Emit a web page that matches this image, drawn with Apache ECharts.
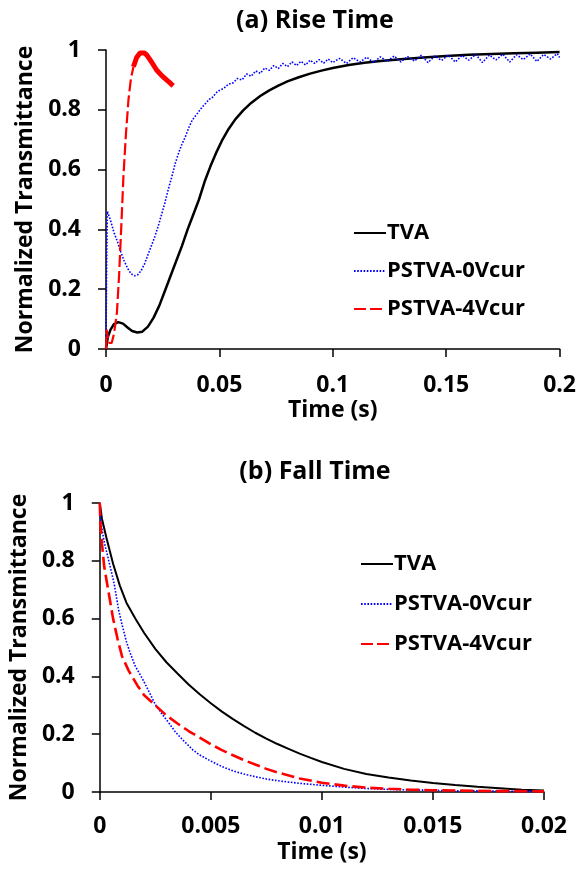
<!DOCTYPE html>
<html>
<head>
<meta charset="utf-8">
<script src="https://cdn.jsdelivr.net/npm/echarts@6/dist/echarts.min.js"></script>
<style>
html,body{margin:0;padding:0;background:#fff;}
#c{width:579px;height:875px;}
</style>
</head>
<body>
<div id="c"></div>
<script>
// ---- data: (a) Rise Time ----
const riseTVA = [[0,0],[0.0008,0.04],[0.002,0.065],[0.0035,0.083],[0.0054,0.09],[0.0075,0.085],[0.0095,0.072],[0.0115,0.06],[0.0138,0.055],[0.016,0.058],[0.0185,0.075],[0.021,0.105],[0.0235,0.145],[0.026,0.195],[0.0285,0.245],[0.031,0.295],[0.0335,0.345],[0.036,0.40],[0.0385,0.45],[0.041,0.50],[0.0435,0.56],[0.046,0.61],[0.0485,0.655],[0.051,0.695],[0.054,0.735],[0.057,0.768],[0.0605,0.798],[0.064,0.823],[0.068,0.846],[0.072,0.865],[0.076,0.881],[0.080,0.895],[0.085,0.909],[0.090,0.921],[0.095,0.931],[0.100,0.94],[0.107,0.95],[0.114,0.957],[0.121,0.963],[0.130,0.969],[0.140,0.975],[0.150,0.98],[0.160,0.984],[0.170,0.987],[0.180,0.989],[0.190,0.991],[0.200,0.993]];
const rise0V = [[0,0],[0.0003,0.3],[0.0006,0.46],[0.0009,0.465],[0.002,0.43],[0.0035,0.39],[0.005,0.36],[0.0065,0.325],[0.008,0.295],[0.0095,0.27],[0.011,0.252],[0.0125,0.245],[0.014,0.248],[0.0155,0.262],[0.017,0.285],[0.0185,0.315],[0.020,0.345],[0.0215,0.375],[0.023,0.41],[0.0245,0.45],[0.026,0.49],[0.0275,0.535],[0.029,0.575],[0.0305,0.62],[0.032,0.655],[0.0335,0.685],[0.035,0.71],[0.0365,0.74],[0.038,0.765],[0.0395,0.78],[0.041,0.795],[0.0425,0.81],[0.044,0.822],[0.0455,0.835],[0.047,0.842],[0.0485,0.856],[0.050,0.865],[0.052,0.872],[0.054,0.886],[0.056,0.89],[0.058,0.905],[0.060,0.9],[0.062,0.92],[0.064,0.912],[0.066,0.93],[0.068,0.922],[0.070,0.94],[0.072,0.932],[0.074,0.948],[0.076,0.938],[0.078,0.955],[0.080,0.944],[0.082,0.96],[0.084,0.948],[0.086,0.962],[0.088,0.95],[0.090,0.966],[0.092,0.955],[0.094,0.968],[0.096,0.956],[0.098,0.97],[0.100,0.958],[0.103,0.972],[0.106,0.955],[0.109,0.974],[0.112,0.96],[0.115,0.976],[0.118,0.958],[0.121,0.977],[0.124,0.962],[0.127,0.98],[0.130,0.96],[0.133,0.978],[0.136,0.963],[0.139,0.982],[0.142,0.958],[0.145,0.98],[0.148,0.965],[0.151,0.983],[0.154,0.96],[0.157,0.982],[0.160,0.966],[0.163,0.985],[0.166,0.958],[0.169,0.983],[0.172,0.967],[0.175,0.986],[0.178,0.96],[0.181,0.984],[0.184,0.968],[0.187,0.987],[0.190,0.962],[0.193,0.985],[0.196,0.97],[0.199,0.988],[0.200,0.975]];
const rise4V = [[0,0],[0.0003,0.065],[0.0008,0.04],[0.0015,0.02],[0.0025,0.02],[0.0035,0.05],[0.0048,0.12],[0.0058,0.25],[0.0068,0.42],[0.0077,0.58],[0.0088,0.72],[0.0099,0.833],[0.011,0.905],[0.0121,0.944]];
const rise4VTail = [[0.0121,0.944],[0.0135,0.975],[0.015,0.99],[0.0158,0.994],[0.017,0.99],[0.018,0.983],[0.019,0.972],[0.0205,0.955],[0.0223,0.933],[0.0245,0.915],[0.0267,0.90],[0.0285,0.888],[0.0296,0.88]];
// ---- data: (b) Fall Time ----
const fallTVA = [[0,1],[0.0001,0.945],[0.0003,0.88],[0.0006,0.79],[0.0009,0.715],[0.0012,0.655],[0.0016,0.6],[0.002,0.55],[0.0025,0.495],[0.003,0.449],[0.0035,0.41],[0.004,0.372],[0.0045,0.338],[0.005,0.307],[0.0055,0.278],[0.006,0.252],[0.0065,0.228],[0.007,0.205],[0.0075,0.185],[0.008,0.166],[0.0085,0.149],[0.009,0.133],[0.0095,0.118],[0.010,0.104],[0.011,0.08],[0.012,0.062],[0.013,0.05],[0.014,0.04],[0.015,0.031],[0.016,0.024],[0.017,0.018],[0.018,0.013],[0.019,0.008],[0.020,0.005]];
const fall0V = [[0,1],[0.00003,0.95],[0.0001,0.91],[0.0002,0.865],[0.00033,0.824],[0.0005,0.77],[0.00065,0.72],[0.00085,0.63],[0.001,0.58],[0.0012,0.52],[0.00136,0.483],[0.0016,0.435],[0.0019,0.395],[0.0022,0.35],[0.0025,0.303],[0.0028,0.27],[0.0031,0.24],[0.0034,0.208],[0.0037,0.183],[0.004,0.16],[0.0042,0.145],[0.0045,0.128],[0.005,0.107],[0.0055,0.088],[0.006,0.073],[0.0065,0.062],[0.007,0.053],[0.0075,0.045],[0.008,0.039],[0.009,0.03],[0.010,0.023],[0.011,0.017],[0.012,0.012],[0.013,0.009],[0.014,0.007],[0.015,0.006],[0.016,0.004],[0.017,0.004],[0.018,0.003],[0.019,0.002],[0.020,0.002]];
const fall4V = [[0,1],[0.00003,0.93],[0.0001,0.86],[0.0002,0.78],[0.0004,0.69],[0.0006,0.6],[0.0008,0.53],[0.001,0.47],[0.0013,0.42],[0.0017,0.368],[0.002,0.335],[0.0025,0.3],[0.003,0.265],[0.0035,0.237],[0.004,0.211],[0.0045,0.188],[0.005,0.165],[0.0055,0.145],[0.006,0.127],[0.0065,0.11],[0.007,0.095],[0.0075,0.08],[0.008,0.068],[0.009,0.047],[0.010,0.032],[0.011,0.022],[0.012,0.015],[0.013,0.011],[0.014,0.008],[0.015,0.006],[0.016,0.005],[0.017,0.004],[0.018,0.003],[0.019,0.003],[0.020,0.002]];
const seriesNames = ['TVA','PSTVA-0Vcur','PSTVA-4Vcur'];
const titles = ['(a) Rise Time','(b) Fall Time'];
const xName = 'Time (s)';
const yName = 'Normalized Transmittance';

const FONT = 'Open Sans';
const FS = 23;
const chart = echarts.init(document.getElementById('c'), null, {renderer:'canvas'});
const txt = {fontFamily:FONT, fontWeight:'bold', color:'#000'};
function xAx(idx, max, interval, margin, gap){
  return {type:'value', gridIndex:idx, min:0, max:max, interval:interval,
    name:xName, nameLocation:'middle', nameGap:gap, nameTextStyle:Object.assign({fontSize:FS},txt),
    axisLine:{show:true,onZero:false,lineStyle:{color:'#000',width:1.5}},
    axisTick:{show:true,length:8,lineStyle:{color:'#000',width:1.5}},
    axisLabel:Object.assign({fontSize:FS,margin:margin},txt),
    splitLine:{show:false}};
}
function yAx(idx, gap){
  return {type:'value', gridIndex:idx, min:0, max:1, interval:0.2,
    name:yName, nameLocation:'middle', nameGap:gap, nameTextStyle:Object.assign({fontSize:FS},txt),
    axisLine:{show:true,lineStyle:{color:'#000',width:1.5}},
    axisTick:{show:true,length:8,lineStyle:{color:'#000',width:1.5}},
    axisLabel:Object.assign({fontSize:FS,margin:25},txt),
    splitLine:{show:false}};
}
const base = {type:'line', showSymbol:false, symbol:'none', smooth:false, animation:false};
const legendBase = {data:seriesNames, orient:'vertical', itemWidth:32, itemHeight:12,
  itemStyle:{opacity:0}, selectedMode:false,
  textStyle:Object.assign({fontSize:FS-1,lineHeight:24,padding:[0,0,0,-4]},txt)};
chart.setOption({
  animation:false,
  backgroundColor:'#fff',
  title:[
    {text:titles[0], left:310, top:3, textAlign:'center', textStyle:Object.assign({fontSize:25},txt)},
    {text:titles[1], left:310, top:454, textAlign:'center', textStyle:Object.assign({fontSize:25},txt)}
  ],
  grid:[
    {left:106, right:17, top:50, bottom:526},
    {left:99, right:35, top:503, bottom:83}
  ],
  xAxis:[xAx(0,0.2,0.05,25,50), xAx(1,0.02,0.005,23,49)],
  yAxis:[yAx(0,64), yAx(1,62)],
  legend:[
    Object.assign({}, legendBase, {left:348, top:216, itemGap:14}),
    Object.assign({}, legendBase, {left:355, top:547, itemGap:16})
  ],
  series:[
    Object.assign({}, base, {name:seriesNames[0], xAxisIndex:0, yAxisIndex:0, data:riseTVA, lineStyle:{color:'#000',width:2.5}, itemStyle:{color:'#000'}}),
    Object.assign({}, base, {name:seriesNames[1], xAxisIndex:0, yAxisIndex:0, data:rise0V, lineStyle:{color:'#0000ff',width:1.6,type:[1.6,1.6]}, itemStyle:{color:'#0000ff'}}),
    Object.assign({}, base, {name:seriesNames[2], xAxisIndex:0, yAxisIndex:0, data:rise4V, lineStyle:{color:'#ff0000',width:2.2,type:[12,4]}, itemStyle:{color:'#ff0000'}}),
    Object.assign({}, base, {name:'PSTVA-4Vcur tail', xAxisIndex:0, yAxisIndex:0, data:rise4VTail, lineStyle:{color:'#ff0000',width:5}, itemStyle:{color:'#ff0000'}}),
    Object.assign({}, base, {name:seriesNames[0], xAxisIndex:1, yAxisIndex:1, data:fallTVA, lineStyle:{color:'#000',width:2}, itemStyle:{color:'#000'}}),
    Object.assign({}, base, {name:seriesNames[1], xAxisIndex:1, yAxisIndex:1, data:fall0V, lineStyle:{color:'#0000ff',width:1.6,type:[1.6,1.6]}, itemStyle:{color:'#0000ff'}}),
    Object.assign({}, base, {name:seriesNames[2], xAxisIndex:1, yAxisIndex:1, data:fall4V, lineStyle:{color:'#ff0000',width:2.6,type:[13,5]}, itemStyle:{color:'#ff0000'}})
  ]
});
</script>
</body>
</html>
